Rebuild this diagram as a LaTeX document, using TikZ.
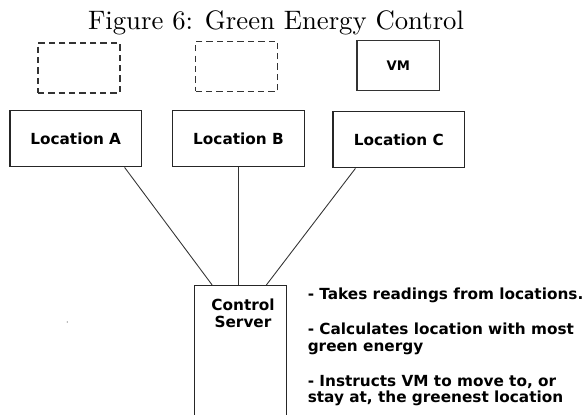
\documentclass[tikz,border=0pt]{standalone}
\usepackage{fontspec}
\newfontfamily\paintfont{DejaVu Sans}
\usetikzlibrary{positioning,calc}

\begin{document}
\begin{tikzpicture}[
node distance=1cm,
locbox/.style={
draw=black!85,
line width=0.75pt,
align=center,
minimum width=2.63cm,
minimum height=1.13cm,
font=\paintfont\bfseries\fontsize{8.7}{9.9}\selectfont
},
emptybox/.style={
draw=black!80,
dash pattern=on 3.6pt off 2.3pt,
line width=0.75pt,
minimum width=1.64cm,
minimum height=1cm
},
vmbox/.style={
draw=black!80,
line width=0.75pt,
minimum width=1.65cm,
minimum height=1cm,
font=\paintfont\bfseries\fontsize{7.5}{9}\selectfont
},
link/.style={
draw=black!80,
line width=0.5pt
}
]

\useasboundingbox (0,0) rectangle (11.76,-8.28);
\clip (0,0) rectangle (11.76,-8.28);

% Caption
\node (caption) [anchor=base, scale=1.52, transform shape] at (5.52,-0.586)
{\fontsize{10}{12}\selectfont Figure 6: Green Energy Control};


% Locations

\node (locB) [locbox] at (4.77,-2.77) {Location B};

\node (locA) [locbox, left=0.6cm of locB] {Location A};

\node (locC) [locbox, right=0.55cm of locB, yshift=-0.02cm] {Location C};


% Slots above the locations

\node (slotA) [emptybox, above=0.32cm of locA, xshift=0.064cm] {};

\node (slotB) [emptybox, above=0.35cm of locB, xshift=-0.036cm] {};

\node (vm) [vmbox, above=0.39cm of locC, xshift=-0.01cm] {VM};


% Control server

\node (server) [locbox, below=2.35cm of locB, xshift=0.04cm,
minimum width=1.85cm, minimum height=3cm] {};

\node (serverlabel) [anchor=north, inner sep=0pt, align=center,
font=\paintfont\bfseries\fontsize{8.7}{9.9}\selectfont]
at ([xshift=0.05cm, yshift=-0.27cm]server.north)
{Control\\
Server};


\draw[link] ([xshift=-0.35cm]locA.south east) -- ([xshift=0.37cm]server.north west);
\draw[link] (locB.south) -- (locB.south |- server.north);
\draw[link] ([xshift=0.46cm]locC.south west) -- ([xshift=-0.42cm]server.north east);


% What the server does

\node (notes) [right=0.4cm of server.north east, anchor=north west,
yshift=-0.05cm, inner sep=0pt, align=left,
font=\paintfont\bfseries\fontsize{8.7}{9.4}\selectfont]
{
- Takes readings from locations.\\[10.6pt]
- Calculates location with most\\
green energy\\[10.6pt]
- Instructs VM to move to, or\\
stay at, the greenest location
};


\fill[black!60] (1.346,-6.44) circle (0.012);


\end{tikzpicture}
\end{document}
